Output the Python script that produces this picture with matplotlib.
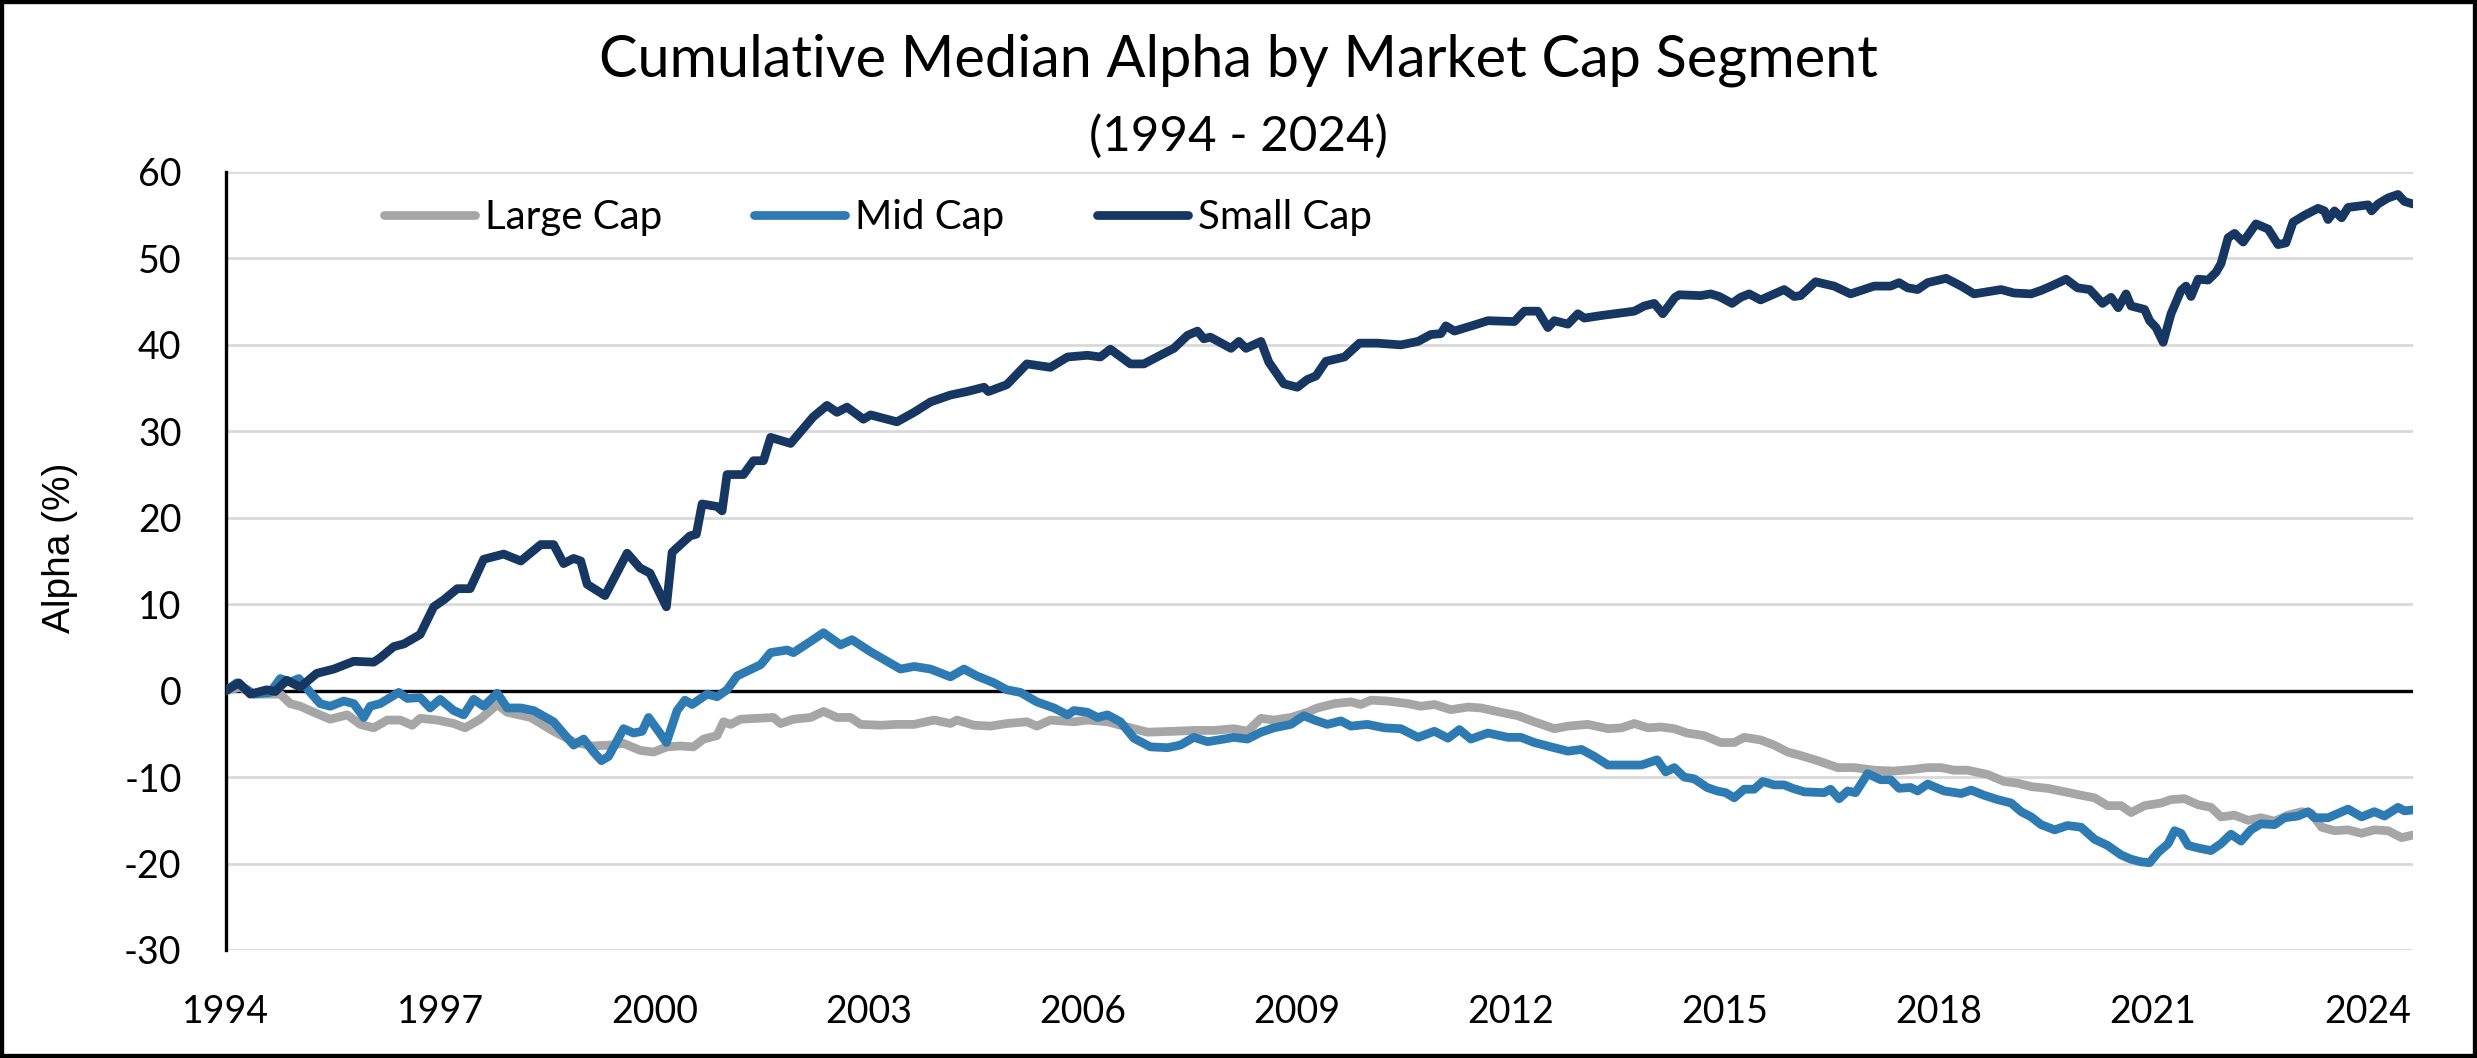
# Se importa numpy
import numpy as np

# Se importa matplotlib sin pantalla
import matplotlib
matplotlib.use('Agg')

# Se importa modulo pyplot de matplotlib
import matplotlib.pyplot as plt

# Rectangulo para el marco negro de la figura
from matplotlib.patches import Rectangle

# Datos (fecha en anios decimales, alfa en %)
# Large Cap
anios_grande = [1994.00, 1994.20, 1994.39, 1994.62, 1994.76, 1994.90, 1995.04, 1995.23,
                1995.46, 1995.70, 1995.88, 1996.07, 1996.26, 1996.44, 1996.61, 1996.72,
                1996.96, 1997.19, 1997.35, 1997.56, 1997.80, 1997.94, 1998.27, 1998.59,
                1998.87, 1999.11, 1999.38, 1999.57, 1999.80, 1999.99, 2000.18, 2000.36,
                2000.55, 2000.69, 2000.88, 2000.97, 2001.07, 2001.21, 2001.44, 2001.67,
                2001.77, 2001.95, 2002.19, 2002.37, 2002.56, 2002.75, 2002.89, 2003.17,
                2003.40, 2003.64, 2003.92, 2004.15, 2004.24, 2004.48, 2004.71, 2004.94,
                2005.22, 2005.36, 2005.55, 2005.88, 2006.07, 2006.35, 2006.58, 2006.72,
                2006.91, 2007.28, 2007.56, 2007.84, 2008.12, 2008.31, 2008.50, 2008.68,
                2008.92, 2009.15, 2009.29, 2009.53, 2009.76, 2009.90, 2010.04, 2010.27,
                2010.56, 2010.74, 2010.93, 2011.16, 2011.40, 2011.58, 2011.86, 2012.10,
                2012.33, 2012.61, 2012.80, 2013.08, 2013.36, 2013.55, 2013.73, 2013.92,
                2014.10, 2014.29, 2014.47, 2014.71, 2014.94, 2015.13, 2015.27, 2015.50,
                2015.69, 2015.88, 2016.06, 2016.30, 2016.58, 2016.81, 2017.09, 2017.37,
                2017.65, 2017.84, 2018.03, 2018.21, 2018.40, 2018.68, 2018.91, 2019.10,
                2019.29, 2019.52, 2019.76, 2019.99, 2020.18, 2020.36, 2020.55, 2020.69,
                2020.88, 2021.11, 2021.25, 2021.44, 2021.63, 2021.81, 2021.95, 2022.14,
                2022.33, 2022.51, 2022.70, 2022.89, 2023.08, 2023.22, 2023.36, 2023.54,
                2023.73, 2023.92, 2024.10, 2024.29, 2024.48, 2024.64]
alfa_grande = [0.0, 0.4, -0.4, -0.4, -0.4, -1.5, -1.8, -2.5,
               -3.3, -2.8, -3.9, -4.3, -3.4, -3.4, -4.0, -3.2,
               -3.4, -3.8, -4.3, -3.3, -1.6, -2.5, -3.1, -4.7,
               -5.9, -6.4, -6.3, -6.1, -6.9, -7.1, -6.5, -6.4,
               -6.5, -5.6, -5.2, -3.6, -3.9, -3.3, -3.2, -3.1,
               -3.8, -3.3, -3.1, -2.4, -3.1, -3.1, -3.9, -4.0,
               -3.9, -3.9, -3.4, -3.8, -3.4, -4.0, -4.1, -3.8,
               -3.6, -4.1, -3.4, -3.6, -3.4, -3.6, -4.1, -4.4,
               -4.8, -4.7, -4.6, -4.6, -4.4, -4.7, -3.2, -3.4,
               -3.1, -2.5, -2.0, -1.5, -1.3, -1.6, -1.1, -1.2,
               -1.5, -1.8, -1.6, -2.2, -1.9, -2.0, -2.5, -2.9,
               -3.6, -4.4, -4.1, -3.9, -4.4, -4.3, -3.8, -4.3,
               -4.2, -4.4, -4.9, -5.2, -6.0, -6.0, -5.4, -5.7,
               -6.3, -7.1, -7.5, -8.1, -8.9, -8.9, -9.2, -9.3,
               -9.1, -8.9, -8.9, -9.2, -9.2, -9.7, -10.5, -10.7,
               -11.1, -11.3, -11.7, -12.1, -12.4, -13.3, -13.3, -14.1,
               -13.3, -13.0, -12.6, -12.5, -13.2, -13.5, -14.6, -14.4,
               -15.0, -14.7, -15.1, -14.4, -14.0, -14.2, -15.8, -16.2,
               -16.1, -16.5, -16.1, -16.2, -17.0, -16.7]

# Mid Cap
anios_medio = [1994.00, 1994.15, 1994.39, 1994.62, 1994.76, 1994.90, 1995.02, 1995.18,
               1995.32, 1995.46, 1995.65, 1995.79, 1995.93, 1996.02, 1996.16, 1996.42,
               1996.54, 1996.72, 1996.86, 1997.00, 1997.19, 1997.33, 1997.47, 1997.61,
               1997.80, 1997.94, 1998.13, 1998.31, 1998.59, 1998.87, 1999.01, 1999.15,
               1999.26, 1999.36, 1999.57, 1999.71, 1999.83, 1999.92, 2000.06, 2000.17,
               2000.32, 2000.43, 2000.53, 2000.74, 2000.88, 2001.02, 2001.16, 2001.49,
               2001.63, 2001.86, 2001.95, 2002.19, 2002.37, 2002.61, 2002.77, 2003.03,
               2003.22, 2003.45, 2003.64, 2003.87, 2004.15, 2004.34, 2004.52, 2004.76,
               2004.94, 2005.13, 2005.36, 2005.60, 2005.79, 2005.88, 2006.07, 2006.21,
               2006.35, 2006.53, 2006.72, 2006.95, 2007.19, 2007.37, 2007.56, 2007.75,
               2007.98, 2008.12, 2008.31, 2008.50, 2008.68, 2008.92, 2009.10, 2009.25,
               2009.43, 2009.62, 2009.76, 2009.99, 2010.23, 2010.46, 2010.70, 2010.93,
               2011.12, 2011.28, 2011.44, 2011.68, 2011.96, 2012.14, 2012.33, 2012.56,
               2012.80, 2012.99, 2013.17, 2013.36, 2013.83, 2014.05, 2014.17, 2014.29,
               2014.43, 2014.57, 2014.75, 2014.89, 2015.01, 2015.13, 2015.27, 2015.41,
               2015.53, 2015.69, 2015.83, 2015.95, 2016.11, 2016.39, 2016.48, 2016.60,
               2016.72, 2016.83, 2017.00, 2017.18, 2017.32, 2017.44, 2017.60, 2017.70,
               2017.84, 2018.07, 2018.31, 2018.45, 2018.63, 2018.82, 2019.01, 2019.15,
               2019.29, 2019.43, 2019.62, 2019.80, 2019.99, 2020.18, 2020.36, 2020.55,
               2020.69, 2020.83, 2020.95, 2021.07, 2021.21, 2021.30, 2021.39, 2021.49,
               2021.63, 2021.81, 2021.95, 2022.09, 2022.23, 2022.37, 2022.51, 2022.70,
               2022.84, 2023.03, 2023.17, 2023.26, 2023.45, 2023.59, 2023.73, 2023.92,
               2024.10, 2024.24, 2024.43, 2024.52, 2024.64]
alfa_medio = [0.0, 0.9, -0.4, -0.2, 1.4, 1.0, 1.4, -0.2,
              -1.5, -1.8, -1.2, -1.5, -3.1, -1.8, -1.5, -0.2,
              -0.9, -0.8, -2.0, -1.0, -2.3, -2.8, -1.0, -1.8,
              -0.3, -2.0, -2.0, -2.3, -3.6, -6.3, -5.6, -7.1,
              -8.1, -7.6, -4.4, -4.9, -4.7, -3.1, -4.7, -6.0,
              -2.3, -1.1, -1.6, -0.4, -0.7, 0.1, 1.7, 3.0,
              4.4, 4.7, 4.4, 5.7, 6.7, 5.3, 5.9, 4.5,
              3.6, 2.5, 2.8, 2.5, 1.6, 2.5, 1.7, 0.9,
              0.1, -0.2, -1.3, -2.0, -2.8, -2.3, -2.5, -3.1,
              -2.8, -3.6, -5.5, -6.5, -6.6, -6.3, -5.4, -5.9,
              -5.6, -5.4, -5.6, -4.8, -4.3, -3.9, -2.9, -3.4,
              -3.9, -3.5, -4.1, -3.9, -4.3, -4.4, -5.4, -4.7,
              -5.5, -4.5, -5.6, -4.9, -5.4, -5.4, -6.0, -6.5,
              -7.0, -6.8, -7.6, -8.6, -8.6, -8.0, -9.4, -8.9,
              -10.0, -10.2, -11.2, -11.6, -11.8, -12.4, -11.4, -11.4,
              -10.5, -10.9, -10.9, -11.3, -11.7, -11.8, -11.4, -12.5,
              -11.6, -11.8, -9.6, -10.3, -10.3, -11.3, -11.2, -11.6,
              -10.8, -11.6, -11.9, -11.5, -12.1, -12.6, -13.0, -14.0,
              -14.6, -15.5, -16.1, -15.6, -15.8, -17.2, -17.9, -19.0,
              -19.5, -19.8, -19.9, -18.7, -17.7, -16.2, -16.5, -17.9,
              -18.2, -18.5, -17.7, -16.6, -17.4, -16.1, -15.4, -15.5,
              -14.7, -14.5, -14.0, -14.7, -14.7, -14.2, -13.7, -14.6,
              -14.0, -14.5, -13.5, -13.9, -13.8]

# Small Cap
anios_pequeno = [1994.00, 1994.18, 1994.34, 1994.57, 1994.69, 1994.85, 1995.04, 1995.27,
                 1995.51, 1995.79, 1996.07, 1996.16, 1996.35, 1996.49, 1996.72, 1996.91,
                 1997.05, 1997.24, 1997.42, 1997.61, 1997.89, 1998.13, 1998.41, 1998.59,
                 1998.73, 1998.87, 1998.97, 1999.06, 1999.31, 1999.62, 1999.80, 1999.94,
                 2000.17, 2000.25, 2000.50, 2000.59, 2000.67, 2000.88, 2000.95, 2001.02,
                 2001.25, 2001.39, 2001.53, 2001.63, 2001.91, 2002.23, 2002.42, 2002.56,
                 2002.70, 2002.93, 2003.03, 2003.40, 2003.64, 2003.87, 2004.15, 2004.38,
                 2004.62, 2004.68, 2004.94, 2005.22, 2005.55, 2005.79, 2006.07, 2006.25,
                 2006.39, 2006.67, 2006.86, 2007.09, 2007.28, 2007.47, 2007.61, 2007.70,
                 2007.79, 2008.08, 2008.19, 2008.29, 2008.50, 2008.61, 2008.82, 2009.01,
                 2009.15, 2009.27, 2009.41, 2009.67, 2009.88, 2010.13, 2010.46, 2010.70,
                 2010.88, 2011.02, 2011.09, 2011.21, 2011.49, 2011.68, 2012.05, 2012.19,
                 2012.38, 2012.52, 2012.61, 2012.80, 2012.94, 2013.03, 2013.27, 2013.73,
                 2013.87, 2014.01, 2014.13, 2014.30, 2014.36, 2014.66, 2014.80, 2014.92,
                 2015.10, 2015.22, 2015.34, 2015.50, 2015.83, 2015.97, 2016.06, 2016.27,
                 2016.53, 2016.76, 2017.09, 2017.32, 2017.44, 2017.56, 2017.70, 2017.84,
                 2018.10, 2018.31, 2018.49, 2018.87, 2019.05, 2019.29, 2019.43, 2019.57,
                 2019.78, 2019.94, 2020.11, 2020.29, 2020.41, 2020.51, 2020.62, 2020.69,
                 2020.88, 2020.95, 2021.04, 2021.14, 2021.25, 2021.39, 2021.46, 2021.53,
                 2021.63, 2021.77, 2021.88, 2021.95, 2022.05, 2022.14, 2022.26, 2022.44,
                 2022.61, 2022.75, 2022.86, 2022.96, 2023.12, 2023.31, 2023.40, 2023.45,
                 2023.54, 2023.64, 2023.73, 2024.01, 2024.06, 2024.15, 2024.29, 2024.43,
                 2024.52, 2024.64]
alfa_pequeno = [0.0, 0.9, -0.4, 0.1, -0.1, 1.2, 0.4, 2.0,
                2.5, 3.4, 3.3, 3.8, 5.1, 5.4, 6.5, 9.7,
                10.5, 11.8, 11.8, 15.2, 15.8, 15.0, 16.9, 16.9,
                14.7, 15.3, 15.0, 12.3, 11.0, 15.9, 14.2, 13.6,
                9.7, 16.0, 17.9, 18.1, 21.6, 21.3, 20.8, 25.0,
                25.0, 26.6, 26.6, 29.3, 28.6, 31.7, 33.0, 32.2,
                32.8, 31.4, 31.9, 31.1, 32.2, 33.4, 34.2, 34.6,
                35.1, 34.6, 35.4, 37.8, 37.4, 38.6, 38.8, 38.6,
                39.5, 37.8, 37.8, 38.8, 39.6, 41.1, 41.6, 40.7,
                40.9, 39.6, 40.4, 39.6, 40.4, 38.0, 35.5, 35.1,
                36.0, 36.4, 38.1, 38.6, 40.2, 40.2, 40.0, 40.4,
                41.2, 41.3, 42.2, 41.6, 42.3, 42.8, 42.7, 43.9,
                43.9, 42.0, 42.8, 42.4, 43.6, 43.1, 43.4, 43.9,
                44.5, 44.8, 43.6, 45.5, 45.8, 45.7, 45.9, 45.6,
                44.8, 45.5, 45.9, 45.2, 46.4, 45.6, 45.7, 47.3,
                46.8, 45.9, 46.8, 46.8, 47.2, 46.6, 46.4, 47.2,
                47.7, 46.8, 45.9, 46.4, 46.0, 45.9, 46.3, 46.8,
                47.6, 46.6, 46.4, 44.8, 45.5, 44.3, 45.9, 44.5,
                44.1, 42.8, 42.0, 40.3, 43.6, 46.3, 46.8, 45.6,
                47.6, 47.5, 48.4, 49.4, 52.4, 52.9, 51.9, 54.0,
                53.4, 51.6, 51.8, 54.2, 55.0, 55.8, 55.5, 54.5,
                55.5, 54.7, 55.9, 56.2, 55.5, 56.3, 57.0, 57.4,
                56.6, 56.3]

# Etiquetas del eje X y del eje Y
anios_etiquetas = [1994, 1997, 2000, 2003, 2006, 2009, 2012, 2015, 2018, 2021, 2024]
valores_eje_y = [-30, -20, -10, 0, 10, 20, 30, 40, 50, 60]

# Nombres y colores de cada serie
nombres = ['Large Cap', 'Mid Cap', 'Small Cap']
colores = ['#A6A6A6', '#2E7BB4', '#173763']

# Fuente parecida a Calibri y signo menos como guion
plt.rcParams['font.family'] = ['Lato', 'DejaVu Sans']
plt.rcParams['axes.unicode_minus'] = False

# Se crea la figura con el tamanio del original (2477 x 1058 px)
fig = plt.figure(figsize=(24.77, 10.58), dpi=100)
ax = fig.add_axes([226 / 2477, 1 - 950 / 1058, (2413 - 226) / 2477, (950 - 172) / 1058])

# Se dibujan las tres series
series = [(anios_grande, alfa_grande), (anios_medio, alfa_medio), (anios_pequeno, alfa_pequeno)]
for (x, y), nombre, color in zip(series, nombres, colores):
    ax.plot(x, y, color=color, lw=6.3, label=nombre, zorder=3,
            solid_joinstyle='round', solid_capstyle='round')

# Limites y marcas de los ejes
ax.set_xlim(1994, 2024.64)
ax.set_ylim(-30, 60)
ax.set_xticks(anios_etiquetas)
ax.set_yticks(valores_eje_y)
ax.tick_params(length=0, labelsize=27, pad=32)

# Lineas de cuadricula horizontales y linea del cero
ax.grid(axis='y', color='#D9D9D9', lw=2.0)
ax.set_axisbelow(True)
ax.axhline(0, color='black', lw=2.4, zorder=2)

# Solo queda el eje izquierdo
for lado in ['top', 'right', 'bottom']:
    ax.spines[lado].set_visible(False)
ax.spines['left'].set_color('black')
ax.spines['left'].set_linewidth(2.4)

# Titulo y subtitulo
fig.text(0.5, 1 - 60 / 1058, 'Cumulative Median Alpha by Market Cap Segment',
         ha='center', va='center', fontsize=41.5)
fig.text(0.5, 1 - 136 / 1058, '(1994 - 2024)', ha='center', va='center', fontsize=35.5)

# Nombre del eje Y
fig.text(60 / 2477, 1 - 548 / 1058, 'Alpha (%)', rotation=90, ha='center', va='center',
         fontsize=28, family=['Liberation Sans', 'DejaVu Sans'])

# Se muestran las leyendas
ax.legend(loc='center left', bbox_to_anchor=(0.0722, 0.941), ncol=3, frameon=False,
          fontsize=29, handlelength=2.25, handletextpad=0.25, columnspacing=2.3,
          borderpad=0, borderaxespad=0)

# Marco negro alrededor de la figura
fig.patches.append(Rectangle((0, 0), 1, 1, transform=fig.transFigure, fill=False,
                             edgecolor='black', lw=6, clip_on=False))

# Se guarda el grafico
fig.savefig('out.png', dpi=100)
